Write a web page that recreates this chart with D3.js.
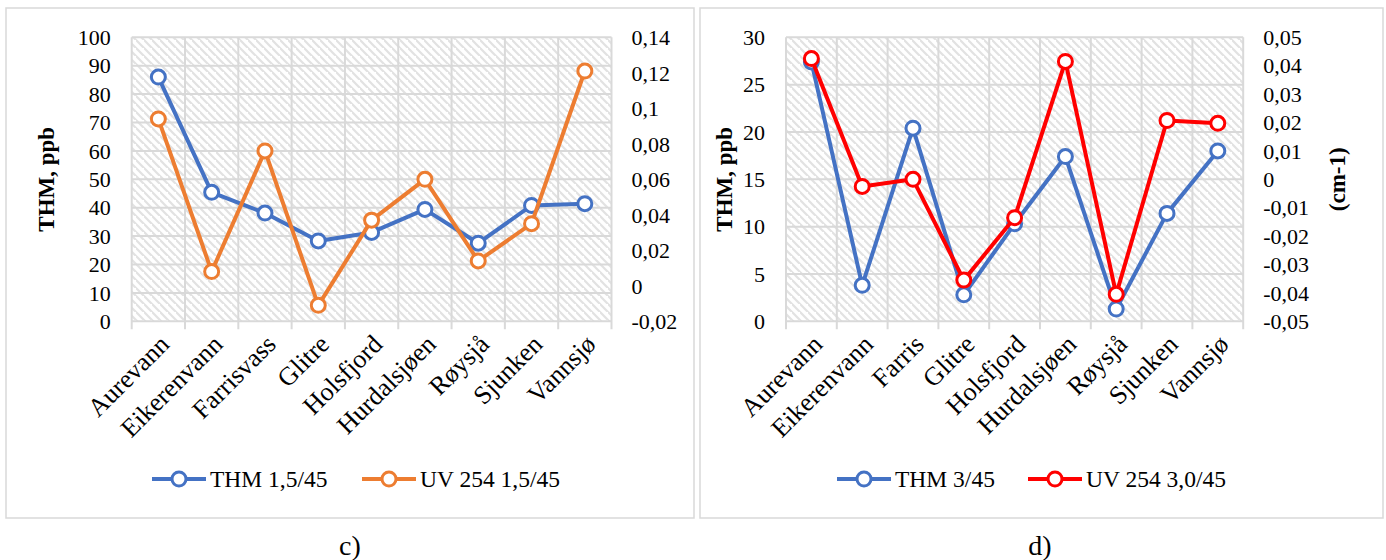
<!DOCTYPE html>
<html>
<head>
<meta charset="utf-8">
<script src="https://cdn.jsdelivr.net/npm/d3@7"></script>
<style>
    body { margin: 0; background: #fff; }
    svg text { font-family: "Liberation Serif", "Times New Roman", serif; fill: #000; }
</style>
</head>
<body>
<div id="chart"></div>
<script>
// data
var categoriesC = ["Aurevann", "Eikerenvann", "Farrisvass", "Glitre", "Holsfjord", "Hurdalsjøen", "Røysjå", "Sjunken", "Vannsjø"];
var categoriesD = ["Aurevann", "Eikerenvann", "Farris", "Glitre", "Holsfjord", "Hurdalsjøen", "Røysjå", "Sjunken", "Vannsjø"];

var thmC = [86, 45.4, 38.1, 28.3, 31.3, 39.4, 27.5, 40.8, 41.4];
var uvC = [0.094, 0.008, 0.076, -0.011, 0.037, 0.060, 0.014, 0.035, 0.121];

var thmD = [27.4, 3.8, 20.4, 2.8, 10.3, 17.4, 1.3, 11.4, 18];
var uvD = [0.0425, -0.0025, 0, -0.0355, -0.0135, 0.0415, -0.0405, 0.0207, 0.0197];

var leftTicksC = [0, 10, 20, 30, 40, 50, 60, 70, 80, 90, 100];
var rightTicksC = [-0.02, 0, 0.02, 0.04, 0.06, 0.08, 0.1, 0.12, 0.14];
var leftTicksD = [0, 5, 10, 15, 20, 25, 30];
var rightTicksD = [-0.05, -0.04, -0.03, -0.02, -0.01, 0, 0.01, 0.02, 0.03, 0.04, 0.05];

var width = 1386;
var height = 560;

var svg = d3.select("#chart")
    .append("svg")
    .attr("width", width)
    .attr("height", height);

// excel style "wide downward diagonal" fill
var defs = svg.append("defs");
var pat = defs.append("pattern")
    .attr("id", "hatch")
    .attr("patternUnits", "userSpaceOnUse")
    .attr("width", 8)
    .attr("height", 8);
pat.append("rect").attr("width", 8).attr("height", 8).attr("fill", "#fff");
pat.append("path")
    .attr("d", "M-2,-2 L10,10 M-6,2 L2,10 M6,-6 L14,2")
    .attr("stroke", "#e2e2e2")
    .attr("stroke-width", 2.2);

function fmt(d) {
    return String(+d.toFixed(2)).replace(".", ",");
}

function drawPanel(p) {
    var g = svg.append("g");

    // panel border
    g.append("rect")
        .attr("x", p.box[0]).attr("y", p.box[1])
        .attr("width", p.box[2]).attr("height", p.box[3])
        .attr("fill", "none")
        .attr("stroke", "#d9d9d9")
        .attr("stroke-width", 1.5);

    var x = d3.scaleBand().domain(p.categories).range([p.left, p.right]).padding(0);
    var yL = d3.scaleLinear().domain(d3.extent(p.leftTicks)).range([p.bottom, p.top]);
    var yR = d3.scaleLinear().domain(d3.extent(p.rightTicks)).range([p.bottom, p.top]);

    g.append("rect")
        .attr("x", p.left).attr("y", p.top)
        .attr("width", p.right - p.left).attr("height", p.bottom - p.top)
        .attr("fill", "url(#hatch)");

    // horizontal gridlines
    g.selectAll(".hgrid")
        .data(p.leftTicks)
        .enter()
        .append("line")
        .attr("x1", p.left).attr("x2", p.right)
        .attr("y1", d => yL(d)).attr("y2", d => yL(d))
        .attr("stroke", "#d9d9d9")
        .attr("stroke-width", 2);

    // vertical gridlines at category edges, running into tick marks under the axis
    var edges = p.categories.map(c => x(c)).concat([p.right]);
    g.selectAll(".vgrid")
        .data(edges)
        .enter()
        .append("line")
        .attr("x1", d => d).attr("x2", d => d)
        .attr("y1", p.top).attr("y2", p.bottom + 8)
        .attr("stroke", "#d9d9d9")
        .attr("stroke-width", 2);

    // left axis labels
    g.selectAll(".ltick")
        .data(p.leftTicks)
        .enter()
        .append("text")
        .attr("x", p.left - 21)
        .attr("y", d => yL(d))
        .attr("dy", "0.35em")
        .attr("text-anchor", "end")
        .style("font-size", "22px")
        .text(d => d);

    // right axis labels
    g.selectAll(".rtick")
        .data(p.rightTicks)
        .enter()
        .append("text")
        .attr("x", p.right + 20)
        .attr("y", d => yR(d))
        .attr("dy", "0.35em")
        .attr("text-anchor", "start")
        .style("font-size", "22px")
        .text(d => fmt(d));

    // category labels
    var bw = x.bandwidth();
    g.selectAll(".cat")
        .data(p.categories)
        .enter()
        .append("text")
        .attr("transform", d => "translate(" + (x(d) + bw / 2 + 6) + "," + (p.bottom + 18) + ") rotate(-45)")
        .attr("text-anchor", "end")
        .attr("dy", "0.35em")
        .style("font-size", "26px")
        .text(d => d);

    // axis titles
    g.append("text")
        .attr("transform", "translate(" + p.titleX + "," + (p.top + p.bottom) / 2 + ") rotate(-90)")
        .attr("text-anchor", "middle")
        .attr("dy", "0.35em")
        .style("font-size", "23px")
        .style("font-weight", "bold")
        .text("THM, ppb");

    if (p.rightTitle) {
        g.append("text")
            .attr("transform", "translate(" + p.rightTitleX + "," + (p.top + p.bottom) / 2 + ") rotate(-90)")
            .attr("text-anchor", "middle")
            .attr("dy", "0.35em")
            .style("font-size", "23px")
            .style("font-weight", "bold")
            .text(p.rightTitle);
    }

    // series
    p.series.forEach(function (s) {
        var y = s.axis === "left" ? yL : yR;
        var pts = s.values.map((v, i) => [x(p.categories[i]) + bw / 2, y(v)]);
        g.append("path")
            .attr("d", d3.line()(pts))
            .attr("fill", "none")
            .attr("stroke", s.color)
            .attr("stroke-width", 4)
            .attr("stroke-linejoin", "round");
        g.selectAll(null)
            .data(pts)
            .enter()
            .append("circle")
            .attr("cx", d => d[0]).attr("cy", d => d[1])
            .attr("r", 7)
            .attr("fill", "#fff")
            .attr("stroke", s.color)
            .attr("stroke-width", 3);
    });

    // legend
    p.series.forEach(function (s) {
        var lg = g.append("g").attr("transform", "translate(" + s.legendX + "," + p.legendY + ")");
        lg.append("line")
            .attr("x1", 0).attr("x2", 54)
            .attr("stroke", s.color)
            .attr("stroke-width", 4);
        lg.append("circle")
            .attr("cx", 27).attr("r", 7)
            .attr("fill", "#fff")
            .attr("stroke", s.color)
            .attr("stroke-width", 3);
        lg.append("text")
            .attr("x", 58)
            .attr("dy", "0.35em")
            .style("font-size", "23.5px")
            .text(s.name);
    });

    // caption below the panel
    g.append("text")
        .attr("x", p.captionX)
        .attr("y", 545)
        .attr("dy", "0.35em")
        .attr("text-anchor", "middle")
        .style("font-size", "28px")
        .text(p.caption);
}

drawPanel({
    box: [6, 8, 688, 510],
    left: 131.7, right: 611.5, top: 37.3, bottom: 321.3,
    categories: categoriesC,
    leftTicks: leftTicksC,
    rightTicks: rightTicksC,
    titleX: 46,
    legendY: 479,
    caption: "c)", captionX: 350,
    series: [
        { name: "THM 1,5/45", values: thmC, axis: "left", color: "#4472c4", legendX: 152 },
        { name: "UV 254 1,5/45", values: uvC, axis: "right", color: "#ed7d31", legendX: 362 }
    ]
});

drawPanel({
    box: [700, 8, 683, 510],
    left: 786, right: 1243.2, top: 37.3, bottom: 321.3,
    categories: categoriesD,
    leftTicks: leftTicksD,
    rightTicks: rightTicksD,
    titleX: 724,
    rightTitle: "(cm-1)", rightTitleX: 1337,
    legendY: 479,
    caption: "d)", captionX: 1040,
    series: [
        { name: "THM 3/45", values: thmD, axis: "left", color: "#4472c4", legendX: 837 },
        { name: "UV 254 3,0/45", values: uvD, axis: "right", color: "#ff0000", legendX: 1028 }
    ]
});
</script>
</body>
</html>
